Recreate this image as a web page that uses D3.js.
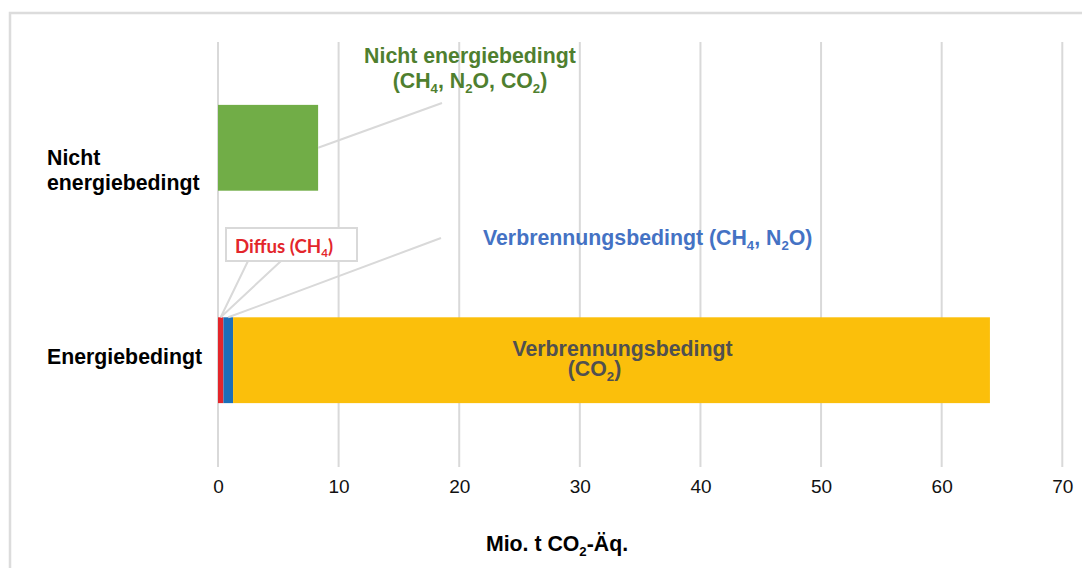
<!DOCTYPE html>
<html>
<head>
<meta charset="utf-8">
<script src="https://cdn.jsdelivr.net/npm/d3@7/dist/d3.min.js"></script>
<style>
  html, body { margin: 0; padding: 0; background: #fff; }
  svg { display: block; }
  .bold { font-family: "Liberation Sans", Arial, sans-serif; font-weight: bold; }
</style>
</head>
<body>
<svg id="chart" width="1082" height="568"></svg>
<script>
// Emissions by source, Mio. t CO2-Äq.
const categories = ["Nicht energiebedingt", "Energiebedingt"];
const seriesKeys = ["diffus", "verbrennungCH4N2O", "verbrennungCO2", "nichtEnergie"];
const diffus = [0, 0.45];
const verbrennungCH4N2O = [0, 0.8];
const verbrennungCO2 = [0, 62.75];
const nichtEnergie = [8.3, 0];
const xTicks = [0, 10, 20, 30, 40, 50, 60, 70];

const colors = {
  diffus: "#E3262B",
  verbrennungCH4N2O: "#1B6EB8",
  verbrennungCO2: "#FBBF0B",
  nichtEnergie: "#71AD47"
};

const rows = categories.map((c, i) => ({
  category: c,
  diffus: diffus[i],
  verbrennungCH4N2O: verbrennungCH4N2O[i],
  verbrennungCO2: verbrennungCO2[i],
  nichtEnergie: nichtEnergie[i]
}));

const svg = d3.select("#chart");
const FS = 21.3; // annotation font size

// outer frame
svg.append("rect")
  .attr("x", 10).attr("y", 13)
  .attr("width", 1100).attr("height", 600)
  .attr("fill", "none")
  .attr("stroke", "#dcdcdc")
  .attr("stroke-width", 2.5);

const x = d3.scaleLinear().domain([0, 70]).range([218, 1062.3]);
const y = d3.scaleBand().domain(categories).range([42, 466])
  .paddingInner(0.596).paddingOuter(0.296);

// vertical gridlines
svg.append("g").selectAll("line").data(xTicks).join("line")
  .attr("x1", d => x(d)).attr("x2", d => x(d))
  .attr("y1", 42).attr("y2", 467)
  .attr("stroke", "#d9d9d9").attr("stroke-width", 2);

// tick labels
const xAxis = d3.axisBottom(x).tickValues(xTicks).tickSize(0).tickPadding(0);
const gx = svg.append("g").attr("transform", "translate(0,479)").call(xAxis);
gx.select(".domain").remove();
gx.selectAll("text")
  .attr("dy", "0.71em")
  .attr("fill", "#111")
  .style("font-family", "'Liberation Sans', Arial, sans-serif")
  .style("font-size", "19px");

// stacked bars
const stack = d3.stack().keys(seriesKeys);
const stacked = stack(rows);
svg.append("g").selectAll("g").data(stacked).join("g")
  .attr("fill", s => colors[s.key])
  .selectAll("rect").data(s => s.filter(d => d[1] > d[0])).join("rect")
  .attr("x", d => x(d[0]))
  .attr("width", d => x(d[1]) - x(d[0]))
  .attr("y", d => y(d.data.category))
  .attr("height", y.bandwidth());

// category labels
const catLabels = [["Nicht", "energiebedingt"], ["Energiebedingt"]];
const catOffset = [17, 4];
categories.forEach((c, i) => {
  const cy = y(c) + y.bandwidth() / 2;
  const t = svg.append("text").attr("class", "bold")
    .attr("font-size", FS)
    .attr("fill", "#000");
  catLabels[i].forEach((l, k) => {
    t.append("tspan").attr("x", 47).attr("y", cy + catOffset[i] + k * 25).text(l);
  });
});

// rich text helper: segments with optional subscript
function rich(sel, segs, size) {
  const shift = size * 0.22;
  let lowered = false;
  segs.forEach(s => {
    const ts = sel.append("tspan").text(s.t);
    if (s.sub) {
      ts.attr("dy", shift).attr("font-size", size * 0.62);
      lowered = true;
    } else if (lowered) {
      ts.attr("dy", -shift);
      lowered = false;
    }
  });
  return sel;
}

const eRow = rows[1], nRow = rows[0];
const eTop = y("Energiebedingt");
const eMid = eTop + y.bandwidth() / 2;
const nMid = y("Nicht energiebedingt") + y.bandwidth() / 2;

// label inside the CO2 bar
const co2Start = eRow.diffus + eRow.verbrennungCH4N2O;
const co2Center = x(co2Start + eRow.verbrennungCO2 / 2) + 11;
svg.append("text").attr("class", "bold")
  .attr("x", co2Center).attr("y", eMid - 4)
  .attr("text-anchor", "middle").attr("font-size", FS).attr("fill", "#505050")
  .text("Verbrennungsbedingt");
rich(svg.append("text").attr("class", "bold")
  .attr("x", co2Center - 28).attr("y", eMid + 16)
  .attr("text-anchor", "middle").attr("font-size", FS).attr("fill", "#505050"),
  [{t: "(CO"}, {t: "2", sub: true}, {t: ")"}], FS);

// leader lines
const leader = "#d9d9d9";
svg.append("line")
  .attr("x1", x(nRow.nichtEnergie)).attr("y1", nMid)
  .attr("x2", 442).attr("y2", 103)
  .attr("stroke", leader).attr("stroke-width", 2);
svg.append("line")
  .attr("x1", x(eRow.diffus + eRow.verbrennungCH4N2O / 2)).attr("y1", eTop)
  .attr("x2", 441).attr("y2", 238)
  .attr("stroke", leader).attr("stroke-width", 2);

// callout for the diffuse emissions
const tip = [x(eRow.diffus / 2), eTop];
svg.append("path")
  .attr("d", `M248,261 L${tip[0]},${tip[1]} L281,261`)
  .attr("fill", "none").attr("stroke", leader).attr("stroke-width", 2);
svg.append("rect")
  .attr("x", 226).attr("y", 228).attr("width", 131).attr("height", 33)
  .attr("fill", "#fff").attr("stroke", leader).attr("stroke-width", 2);
rich(svg.append("text")
  .attr("x", 284).attr("y", 252.5).attr("text-anchor", "middle")
  .style("font-family", "Lato, 'Open Sans', sans-serif").style("font-weight", "bold")
  .attr("font-size", 18.7).attr("fill", "#E3262B"),
  [{t: "Diffus (CH"}, {t: "4", sub: true}, {t: ")"}], 18.7);

// annotation for the non-energy bar
svg.append("text").attr("class", "bold")
  .attr("x", 470).attr("y", 63).attr("text-anchor", "middle")
  .attr("font-size", FS).attr("fill", "#4F7F2F")
  .text("Nicht energiebedingt");
rich(svg.append("text").attr("class", "bold")
  .attr("x", 470).attr("y", 88).attr("text-anchor", "middle")
  .attr("font-size", FS).attr("fill", "#4F7F2F"),
  [{t: "(CH"}, {t: "4", sub: true}, {t: ", N"}, {t: "2", sub: true}, {t: "O, CO"}, {t: "2", sub: true}, {t: ")"}], FS);

// annotation for combustion CH4/N2O
rich(svg.append("text").attr("class", "bold")
  .attr("x", 483).attr("y", 245)
  .attr("font-size", FS).attr("fill", "#4472C4"),
  [{t: "Verbrennungsbedingt (CH"}, {t: "4", sub: true}, {t: ", N"}, {t: "2", sub: true}, {t: "O)"}], FS);

// axis title
rich(svg.append("text").attr("class", "bold")
  .attr("x", 557).attr("y", 551).attr("text-anchor", "middle")
  .attr("font-size", FS).attr("fill", "#000"),
  [{t: "Mio. t CO"}, {t: "2", sub: true}, {t: "-Äq."}], FS);
</script>
</body>
</html>
